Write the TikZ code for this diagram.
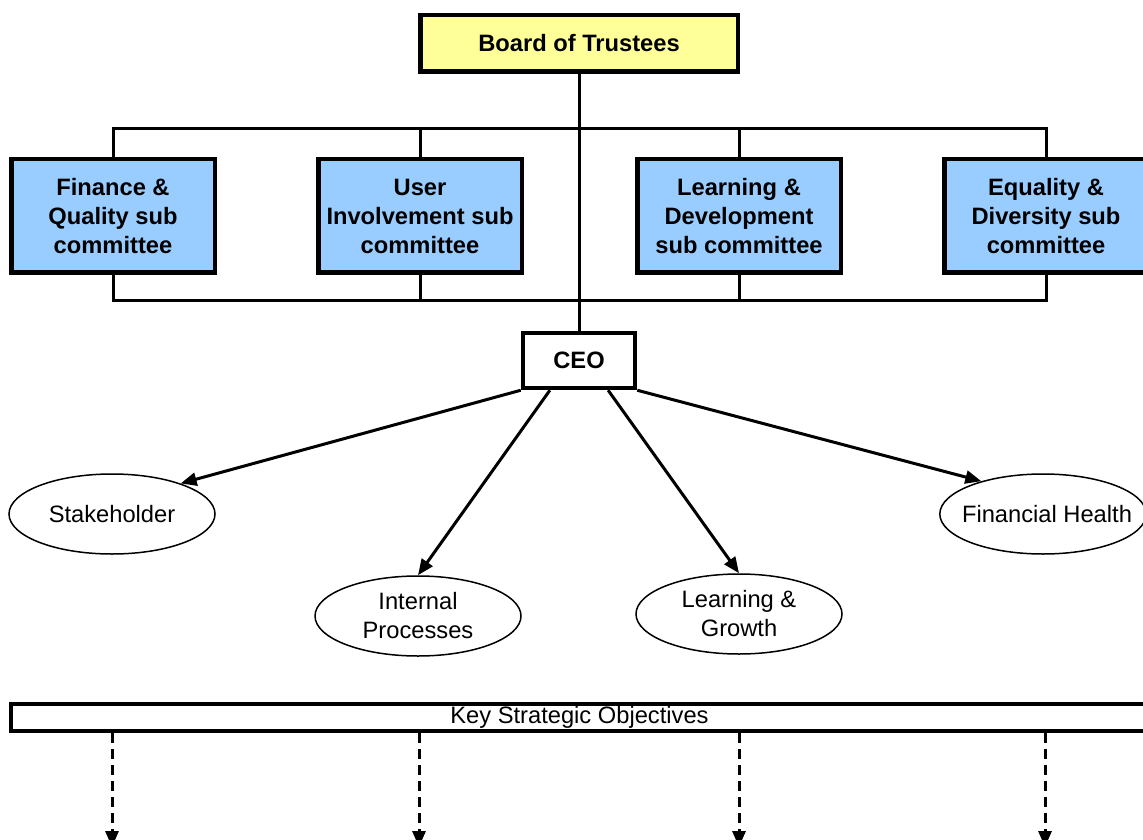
\documentclass[tikz,border=0pt]{standalone}
\usepackage{fontspec}
\setmainfont{Liberation Sans}
\usetikzlibrary{arrows.meta,calc,shapes.geometric}
\definecolor{yellowfill}{HTML}{FFFF99}
\definecolor{bluefill}{HTML}{99CCFF}
\begin{document}
\begin{tikzpicture}[x=0.5pt,y=-0.5pt,
 every node/.style={font=\fontsize{11.85}{14.5}\selectfont, align=center, inner sep=0pt},
 boxb/.style={draw, line width=2.25pt, font=\fontsize{11.85}{14.5}\selectfont\bfseries},
 trustee/.style={boxb, fill=yellowfill, minimum width=158.75pt, minimum height=28.25pt},
 subc/.style={boxb, fill=bluefill, minimum width=101.75pt, minimum height=56.75pt},
 ceobox/.style={boxb, fill=white, minimum width=56pt, minimum height=27.5pt},
 persp/.style={draw, ellipse, line width=0.75pt, minimum width=103pt, minimum height=40pt},
 bar/.style={draw, line width=2.25pt, minimum width=568.5pt, minimum height=13.5pt},
 link/.style={line width=1.5pt},
 arr/.style={line width=1.5pt, -{Triangle[length=8pt,width=6.5pt]}},
 darr/.style={arr, dash pattern=on 5pt off 3pt},
]
\clip (0,0) rectangle (1143,839);
\fill[white] (0,0) rectangle (1143,839);

% nodes
\node[trustee] (board) at (579,43.5) {Board of Trustees};
\node[subc] (fin) at (113,216) {Finance \&\\Quality sub\\committee};
\node[subc] (user) at (420,216) {User\\Involvement sub\\committee};
\node[subc] (learn) at (739,216) {Learning \&\\Development\\sub committee};
\node[subc] (equal) at (1046,216) {Equality \&\\Diversity sub\\committee};
\node[ceobox] (ceo) at (579,360.5) {CEO};

\node[persp] (stake) at (112,514) {Stakeholder};
\node[persp] (internal) at (418,616) {Internal\\Processes};
\node[persp] (growth) at (739,614) {Learning \&\\Growth};
\node[persp, inner xsep=-8pt] (health) at (1043,514) {\hspace*{4pt}Financial Health};

\node[bar] (key) at (579.5,717.5) {Key Strategic Objectives};

% buses
\coordinate (busT) at (579,129);
\coordinate (busB) at (579,300);
\draw[link] (fin.north) -- (fin.north |- busT) -- (equal.north |- busT) -- (equal.north);
\draw[link] (user.north) -- (user.north |- busT);
\draw[link] (learn.north) -- (learn.north |- busT);
\draw[link] (fin.south) -- (fin.south |- busB) -- (equal.south |- busB) -- (equal.south);
\draw[link] (user.south) -- (user.south |- busB);
\draw[link] (learn.south) -- (learn.south |- busB);
\draw[link] (board.south) -- (ceo.north);

% CEO arrows
\draw[arr] (ceo.south west) -- (stake.24);
\draw[arr] ($(ceo.south west)!0.25!(ceo.south east)$) -- (internal.north);
\draw[arr] ($(ceo.south west)!0.75!(ceo.south east)$) -- (growth.north);
\draw[arr] (ceo.south east) -- (health.152);

% dashed arrows
\coordinate (d1) at (112,847);
\coordinate (d2) at (419,847);
\coordinate (d3) at (739,847);
\coordinate (d4) at (1045,847);
\foreach \d in {d1,d2,d3,d4}
  \draw[darr] (key.south -| \d) -- (\d);
\end{tikzpicture}
\end{document}
